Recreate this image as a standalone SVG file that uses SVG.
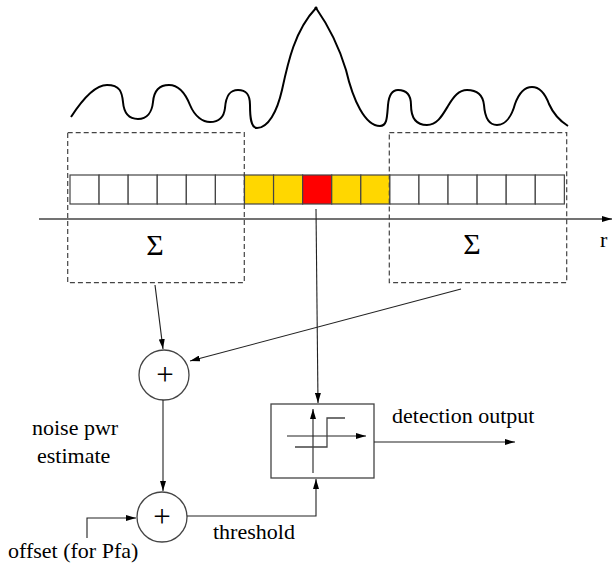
<svg xmlns="http://www.w3.org/2000/svg" width="614" height="564" viewBox="0 0 614 564">
<defs>
<style>
text{font-family:"Liberation Serif","Times New Roman",serif;font-size:22px;fill:#000}
.sig{font-size:30px}
.pl{font-size:31px}
.cell{stroke:#444;stroke-width:1.2;fill:#fff}
.y{fill:#FFD700}
.r{fill:#FF0000}
.dash{fill:none;stroke:#444;stroke-width:1.2;stroke-dasharray:5,3}
.ln{fill:none;stroke:#222;stroke-width:1.1}
.gr{fill:none;stroke:#444;stroke-width:1.3}
</style>
<marker id="ah" viewBox="0 0 10 6" refX="10" refY="3" markerWidth="10" markerHeight="6" markerUnits="userSpaceOnUse" orient="auto">
<path d="M0,0 L10,3 L0,6 z" fill="#000"/>
</marker>
</defs>
<rect width="614" height="564" fill="#fff"/>
<g id="signal">
<path d="M71,117 C82,100 95,85 107,85 C120,85 122,92 123,102 C124,114 130,119 138,119 C147,119 152,112 153,102 C154,90 160,85 169,85 C180,85 186,95 190,105 C195,117 203,122 210,122 C220,122 224,117 225,108 C226,95 230,90 238,90 C246,90 250,94 250,105 C250,118 251,128 257,128 C268,128 277,112 282,90 C288,62 295,30 316,8 C330,28 340,50 346,70 C353,100 365,126 380,126 C387,126 387,118 388,105 C389,94 393,90 398,90 C408,90 411,96 411,105 C411,119 417,125 427,125 C437,125 442,116 448,106 C454,96 459,90 467,90 C478,90 483,96 484,105 C485,119 489,125 497,125 C506,125 512,115 515,104 C519,93 525,87 532,87 C541,87 546,96 549,104 C553,113 560,121 568,126" fill="none" stroke="#000" stroke-width="2"/>
<circle cx="316" cy="8" r="1.6" fill="#000"/>
</g>
<g id="cells">
<rect class="cell" x="70" y="175" width="29.08" height="29"/>
<rect class="cell" x="99.08" y="175" width="29.08" height="29"/>
<rect class="cell" x="128.16" y="175" width="29.08" height="29"/>
<rect class="cell" x="157.24" y="175" width="29.08" height="29"/>
<rect class="cell" x="186.32" y="175" width="29.08" height="29"/>
<rect class="cell" x="215.4" y="175" width="29.08" height="29"/>
<rect class="cell y" x="244.48" y="175" width="29.08" height="29"/>
<rect class="cell y" x="273.56" y="175" width="29.08" height="29"/>
<rect class="cell r" x="302.64" y="175" width="29.08" height="29"/>
<rect class="cell y" x="331.72" y="175" width="29.08" height="29"/>
<rect class="cell y" x="360.8" y="175" width="29.08" height="29"/>
<rect class="cell" x="389.88" y="175" width="29.08" height="29"/>
<rect class="cell" x="418.96" y="175" width="29.08" height="29"/>
<rect class="cell" x="448.04" y="175" width="29.08" height="29"/>
<rect class="cell" x="477.12" y="175" width="29.08" height="29"/>
<rect class="cell" x="506.2" y="175" width="29.08" height="29"/>
<rect class="cell" x="535.28" y="175" width="29.08" height="29"/>
</g>
<g id="axis">
<line x1="39" y1="219" x2="612" y2="219" stroke="#444" stroke-width="1.3" marker-end="url(#ah)"/>
<text x="600" y="247">r</text>
</g>
<g id="sum-left">
<rect class="dash" x="67.7" y="132.7" width="176.6" height="150"/>
<text class="sig" x="155" y="255" text-anchor="middle">Σ</text>
</g>
<g id="sum-right">
<rect class="dash" x="389.3" y="132.7" width="177.4" height="150"/>
<text class="sig" x="472" y="254" text-anchor="middle">Σ</text>
</g>
<g id="adder1">
<circle class="gr" cx="164" cy="375" r="25"/>
<text class="pl" x="165" y="385" text-anchor="middle">+</text>
</g>
<g id="adder2">
<circle class="gr" cx="162" cy="517" r="25"/>
<text class="pl" x="162" y="527" text-anchor="middle">+</text>
</g>
<g id="comparator">
<rect class="gr" x="271" y="404" width="103" height="74"/>
<line class="ln" x1="313" y1="473" x2="313" y2="409" marker-end="url(#ah)"/>
<line class="ln" x1="287" y1="436" x2="366" y2="436" marker-end="url(#ah)"/>
<polyline class="gr" points="295,447 327,447 327,418 345,418"/>
</g>
<g id="connectors">
<line class="ln" x1="316" y1="209" x2="318" y2="403" marker-end="url(#ah)"/>
<line class="ln" x1="155" y1="285" x2="163" y2="349" marker-end="url(#ah)"/>
<line class="ln" x1="461" y1="289" x2="190" y2="361" marker-end="url(#ah)"/>
<line class="ln" x1="163" y1="400" x2="163" y2="491" marker-end="url(#ah)"/>
<polyline class="ln" points="87,538 87,518 136,518" marker-end="url(#ah)"/>
<polyline class="ln" points="187,516 316,516 316,479" marker-end="url(#ah)"/>
<line class="ln" x1="374" y1="442" x2="515" y2="442" marker-end="url(#ah)"/>
</g>
<g id="labels">
<text x="32" y="435">noise pwr</text>
<text x="37" y="463">estimate</text>
<text x="213" y="539">threshold</text>
<text x="8" y="558">offset (for Pfa)</text>
<text x="392" y="423">detection output</text>
</g>
</svg>
